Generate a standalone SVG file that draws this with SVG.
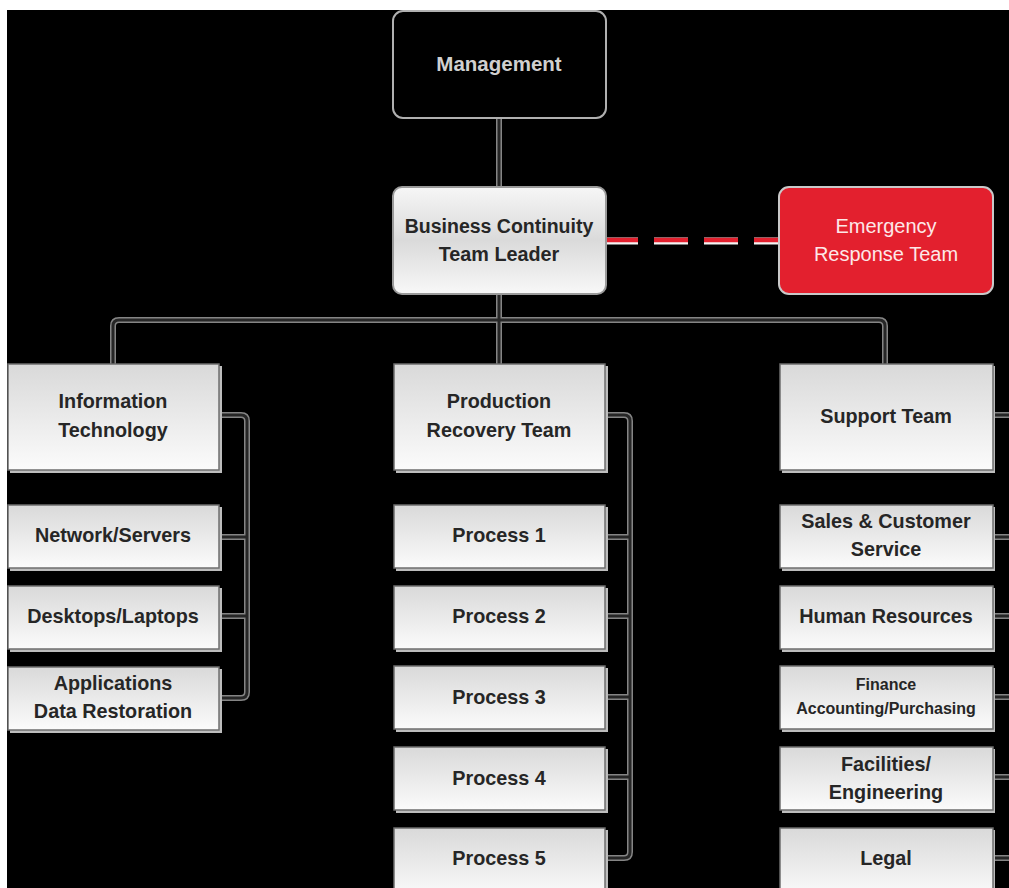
<svg xmlns="http://www.w3.org/2000/svg" width="1009" height="888" viewBox="0 0 1009 888">
<defs>
<linearGradient id="gBox" x1="0" y1="0" x2="0" y2="1">
<stop offset="0" stop-color="#d9d9d9"/>
<stop offset="1" stop-color="#fbfbfb"/>
</linearGradient>
<linearGradient id="gLead" x1="0" y1="0" x2="0" y2="1">
<stop offset="0" stop-color="#f6f6f6"/>
<stop offset="0.5" stop-color="#dadada"/>
<stop offset="1" stop-color="#f8f8f8"/>
</linearGradient>
<style>
.sh{fill:#bdbdbd}
.box{fill:url(#gBox);stroke:#6e6e6e;stroke-width:1.5}
.t{font-family:"Liberation Sans",Arial,sans-serif;font-weight:bold;font-size:19.8px;fill:#262626;text-anchor:middle}
.ts{font-size:16px}
.lo{fill:none;stroke:#858585;stroke-width:6;stroke-linejoin:round;stroke-linecap:butt}
.li{fill:none;stroke:#262626;stroke-width:3;stroke-linejoin:round;stroke-linecap:butt}
</style>
</defs>
<rect x="0" y="0" width="1009" height="888" fill="#000"/>
<rect x="0" y="0" width="1009" height="10" fill="#fff"/>
<rect x="0" y="0" width="7" height="888" fill="#fff"/>

<g id="connectors">
<g class="lo">
<path d="M499 118 V187"/>
<path d="M499 294 V364"/>
<path d="M113 364 V326 Q113 320 119 320 H879 Q885 320 885 326 V364"/>
<path d="M220 415 H241 Q247 415 247 421 V692 Q247 698 241 698 H220"/>
<path d="M220 537 H247 M220 616 H247"/>
<path d="M606 415 H624 Q630 415 630 421 V852 Q630 858 624 858 H606"/>
<path d="M606 537 H630 M606 616 H630 M606 697 H630 M606 777 H630"/>
<path d="M993 415 H1009 M993 537 H1009 M993 616 H1009 M993 697 H1009 M993 777 H1009 M993 858 H1009"/>
</g>
<g class="li">
<path d="M499 118 V187"/>
<path d="M499 294 V364"/>
<path d="M113 364 V326 Q113 320 119 320 H879 Q885 320 885 326 V364"/>
<path d="M220 415 H241 Q247 415 247 421 V692 Q247 698 241 698 H220"/>
<path d="M220 537 H247 M220 616 H247"/>
<path d="M606 415 H624 Q630 415 630 421 V852 Q630 858 624 858 H606"/>
<path d="M606 537 H630 M606 616 H630 M606 697 H630 M606 777 H630"/>
<path d="M993 415 H1009 M993 537 H1009 M993 616 H1009 M993 697 H1009 M993 777 H1009 M993 858 H1009"/>
</g>
<path d="M604 241 H779" stroke="#f4f4f4" stroke-width="7" stroke-dasharray="34 16" fill="none"/>
<path d="M604 240 H779" stroke="#e3202e" stroke-width="4.5" stroke-dasharray="34 16" fill="none"/>
</g>

<g id="management">
<rect x="393" y="11" width="213" height="107" rx="10" fill="#000" stroke="#b0b0b0" stroke-width="2"/>
<text class="t" x="499" y="71" style="fill:#d0d0d0;font-size:20.5px">Management</text>
</g>

<g id="bc-leader">
<rect x="393" y="187" width="213" height="107" rx="9" fill="url(#gLead)" stroke="#9a9a9a" stroke-width="2"/>
<text class="t" x="499" y="233" style="font-size:19.5px">Business Continuity</text>
<text class="t" x="499" y="261">Team Leader</text>
</g>

<g id="emergency">
<rect x="779" y="187" width="214" height="107" rx="10" fill="#e3202e" stroke="#c9c9c9" stroke-width="2"/>
<text class="t" x="886" y="233" style="fill:#fde8e8;font-weight:normal;font-size:20px">Emergency</text>
<text class="t" x="886" y="261" style="fill:#fde8e8;font-weight:normal;font-size:20px">Response Team</text>
</g>

<g id="it">
<rect class="sh" x="10" y="366" width="212" height="107"/>
<rect class="box" x="8" y="364" width="211" height="106"/>
<text class="t" x="113" y="408">Information</text>
<text class="t" x="113" y="437">Technology</text>
</g>
<g id="production">
<rect class="sh" x="396" y="366" width="212" height="107"/>
<rect class="box" x="394" y="364" width="211" height="106"/>
<text class="t" x="499" y="408">Production</text>
<text class="t" x="499" y="437">Recovery Team</text>
</g>
<g id="support">
<rect class="sh" x="782" y="366" width="213" height="107"/>
<rect class="box" x="780" y="364" width="213" height="106"/>
<text class="t" x="886" y="423">Support Team</text>
</g>

<g id="network">
<rect class="sh" x="10" y="507" width="212" height="64"/>
<rect class="box" x="8" y="505" width="211" height="63"/>
<text class="t" x="113" y="542">Network/Servers</text>
</g>
<g id="desktops">
<rect class="sh" x="10" y="588" width="212" height="64"/>
<rect class="box" x="8" y="586" width="211" height="63"/>
<text class="t" x="113" y="623">Desktops/Laptops</text>
</g>
<g id="applications">
<rect class="sh" x="10" y="669" width="212" height="64"/>
<rect class="box" x="8" y="667" width="211" height="63"/>
<text class="t" x="113" y="690">Applications</text>
<text class="t" x="113" y="718">Data Restoration</text>
</g>

<g id="process1">
<rect class="sh" x="396" y="507" width="212" height="64"/>
<rect class="box" x="394" y="505" width="211" height="63"/>
<text class="t" x="499" y="542">Process 1</text>
</g>
<g id="process2">
<rect class="sh" x="396" y="588" width="212" height="64"/>
<rect class="box" x="394" y="586" width="211" height="63"/>
<text class="t" x="499" y="623">Process 2</text>
</g>
<g id="process3">
<rect class="sh" x="396" y="668" width="212" height="64"/>
<rect class="box" x="394" y="666" width="211" height="63"/>
<text class="t" x="499" y="704">Process 3</text>
</g>
<g id="process4">
<rect class="sh" x="396" y="749" width="212" height="64"/>
<rect class="box" x="394" y="747" width="211" height="63"/>
<text class="t" x="499" y="785">Process 4</text>
</g>
<g id="process5">
<rect class="sh" x="396" y="830" width="212" height="64"/>
<rect class="box" x="394" y="828" width="211" height="70"/>
<text class="t" x="499" y="865">Process 5</text>
</g>

<g id="sales">
<rect class="sh" x="782" y="507" width="213" height="64"/>
<rect class="box" x="780" y="505" width="213" height="63"/>
<text class="t" x="886" y="528">Sales &amp; Customer</text>
<text class="t" x="886" y="556">Service</text>
</g>
<g id="hr">
<rect class="sh" x="782" y="588" width="213" height="64"/>
<rect class="box" x="780" y="586" width="213" height="63"/>
<text class="t" x="886" y="623">Human Resources</text>
</g>
<g id="finance">
<rect class="sh" x="782" y="668" width="213" height="64"/>
<rect class="box" x="780" y="666" width="213" height="63"/>
<text class="t ts" x="886" y="690">Finance</text>
<text class="t ts" x="886" y="714">Accounting/Purchasing</text>
</g>
<g id="facilities">
<rect class="sh" x="782" y="749" width="213" height="64"/>
<rect class="box" x="780" y="747" width="213" height="63"/>
<text class="t" x="886" y="771">Facilities/</text>
<text class="t" x="886" y="799">Engineering</text>
</g>
<g id="legal">
<rect class="sh" x="782" y="830" width="213" height="64"/>
<rect class="box" x="780" y="828" width="213" height="70"/>
<text class="t" x="886" y="865">Legal</text>
</g>
</svg>
